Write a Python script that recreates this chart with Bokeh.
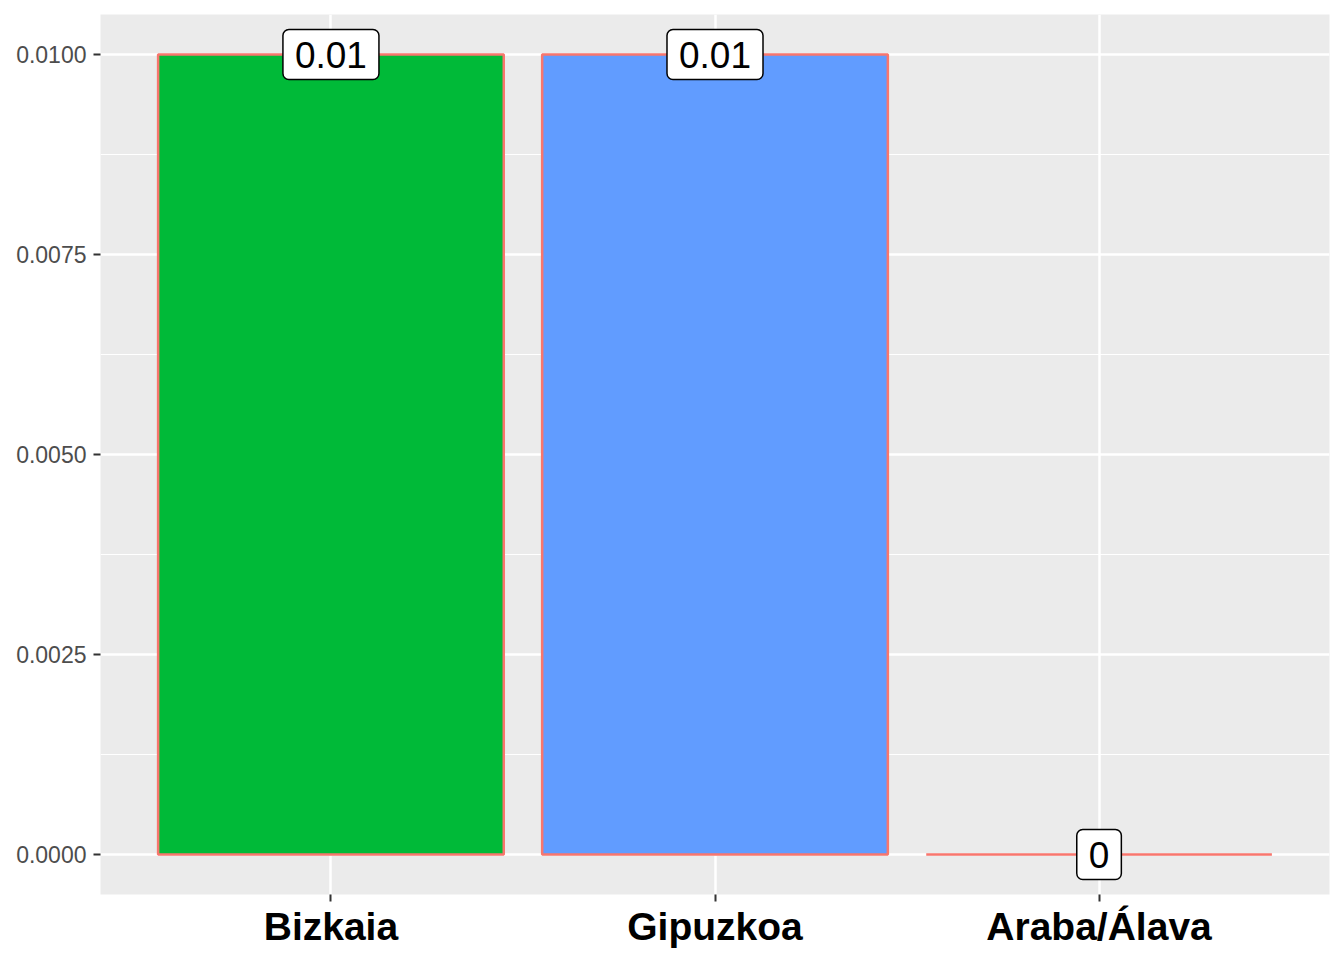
from bokeh.plotting import figure
from bokeh.models import ColumnDataSource, FactorRange, FixedTicker, NumeralTickFormatter
from bokeh.core.properties import value
from bokeh.embed import file_html
from bokeh.resources import INLINE

provinces = ["Bizkaia", "Gipuzkoa", "Araba/Álava"]
values = [0.01, 0.01, 0.0]
labels = ["0.01", "0.01", "0"]
colors = ["#00BA38", "#619CFF", "#F8766D"]
y_ticks = [0.0, 0.0025, 0.005, 0.0075, 0.01]
y_minor = [0.00125, 0.00375, 0.00625, 0.00875]

src = ColumnDataSource(dict(x=provinces, top=values, lab=labels, color=colors))

x_range = FactorRange(factors=provinces, range_padding=0.1, range_padding_units="absolute")

p = figure(width=1344, height=960, x_range=x_range, y_range=(-0.0005, 0.0105),
           output_backend="svg", toolbar_location=None,
           min_border_left=100, min_border_right=15, min_border_top=14, min_border_bottom=66)
p.background_fill_color = "#EBEBEB"
p.border_fill_color = "white"
p.outline_line_color = None

p.vbar(x="x", top="top", bottom=0, width=0.9, fill_color="color", line_color="#F8766D",
       line_width=2.5, source=src)

p.text(x="x", y="top", text="lab", source=src, text_align="center", text_baseline="middle",
       text_font=value("Liberation Sans"), text_font_size="37px", text_color="black",
       background_fill_color="white", border_line_color="black", border_line_width=1.5,
       border_radius=6, padding=12)

p.yaxis.ticker = FixedTicker(ticks=y_ticks, minor_ticks=y_minor)
p.yaxis.formatter = NumeralTickFormatter(format="0.0000")
for ax in (p.xaxis, p.yaxis):
    ax.axis_line_color = None
    ax.major_tick_in = 0
    ax.major_tick_out = 7
    ax.major_tick_line_width = 2
    ax.major_tick_line_color = "#333333"
    ax.minor_tick_in = 0
    ax.minor_tick_out = 0
p.yaxis.major_label_text_font = "Liberation Sans"
p.yaxis.major_label_text_font_size = "23px"
p.yaxis.major_label_text_color = "#4D4D4D"
p.yaxis.major_label_standoff = 7
p.xaxis.major_label_text_font = "Liberation Sans"
p.xaxis.major_label_text_font_size = "39px"
p.xaxis.major_label_text_font_style = "bold"
p.xaxis.major_label_text_color = "black"
p.xaxis.major_label_standoff = 3

p.ygrid.grid_line_color = "white"
p.ygrid.grid_line_width = 2.5
p.ygrid.minor_grid_line_color = "white"
p.ygrid.minor_grid_line_width = 1.2
p.xgrid.grid_line_color = "white"
p.xgrid.grid_line_width = 2.5

open("out.html", "w").write(file_html(p, INLINE))
